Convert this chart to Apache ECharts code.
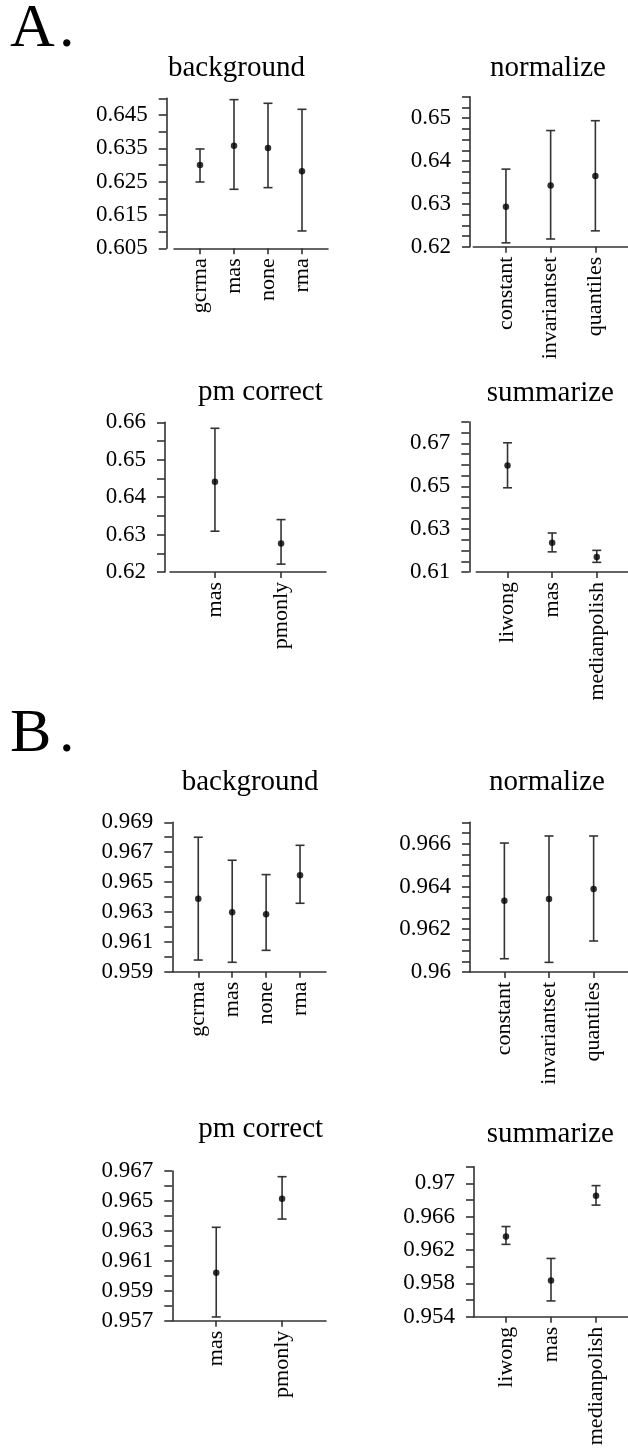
<!DOCTYPE html>
<html>
 <head>
  <meta charset="utf-8" />
  <title>error bars</title>
  <script type="text/javascript" src="https://cdn.jsdelivr.net/npm/echarts@6/dist/echarts.min.js"></script>
  <style type="text/css">
html, body {
	margin: 0;
	background: #fff;
}

#main {
	width: 628px;
	height: 1456px;
}
</style>
 </head>
 <body>
  <div id="main"></div>

<script type="text/javascript">
// ---- A. ----
var aBgCats = ['gcrma', 'mas', 'none', 'rma'];
var aBgMean = [0.6300, 0.6358, 0.6351, 0.6281];
var aBgLow = [0.6249, 0.6227, 0.6232, 0.6102];
var aBgHigh = [0.6348, 0.6496, 0.6485, 0.6467];
var aBgLabels = [0.605, 0.615, 0.625, 0.635, 0.645];

var aNormCats = ['constant', 'invariantset', 'quantiles'];
var aNormMean = [0.6293, 0.6343, 0.6365];
var aNormLow = [0.6209, 0.6218, 0.6237];
var aNormHigh = [0.6381, 0.6471, 0.6494];
var aNormLabels = [0.62, 0.63, 0.64, 0.65];

var aPmCats = ['mas', 'pmonly'];
var aPmMean = [0.6441, 0.6276];
var aPmLow = [0.6309, 0.6221];
var aPmHigh = [0.6584, 0.6340];
var aPmLabels = [0.62, 0.63, 0.64, 0.65, 0.66];

var aSumCats = ['liwong', 'mas', 'medianpolish'];
var aSumMean = [0.6597, 0.6236, 0.6170];
var aSumLow = [0.6493, 0.6194, 0.6145];
var aSumHigh = [0.6703, 0.6282, 0.6201];
var aSumLabels = [0.61, 0.63, 0.65, 0.67];

// ---- B. ----
var bBgCats = ['gcrma', 'mas', 'none', 'rma'];
var bBgMean = [0.96389, 0.96298, 0.96284, 0.96546];
var bBgLow = [0.95978, 0.95963, 0.96043, 0.96358];
var bBgHigh = [0.96800, 0.96646, 0.96550, 0.96746];
var bBgLabels = [0.959, 0.961, 0.963, 0.965, 0.967, 0.969];

var bNormCats = ['constant', 'invariantset', 'quantiles'];
var bNormMean = [0.96333, 0.96341, 0.96388];
var bNormLow = [0.96062, 0.96045, 0.96145];
var bNormHigh = [0.96603, 0.96636, 0.96636];
var bNormLabels = [0.96, 0.962, 0.964, 0.966];

var bPmCats = ['mas', 'pmonly'];
var bPmMean = [0.96021, 0.96515];
var bPmLow = [0.95725, 0.96379];
var bPmHigh = [0.96324, 0.96662];
var bPmLabels = [0.957, 0.959, 0.961, 0.963, 0.965, 0.967];

var bSumCats = ['liwong', 'mas', 'medianpolish'];
var bSumMean = [0.96361, 0.95834, 0.96852];
var bSumLow = [0.96268, 0.95589, 0.96739];
var bSumHigh = [0.96482, 0.96099, 0.96973];
var bSumLabels = [0.954, 0.958, 0.962, 0.966, 0.97];

var FONT = '"Liberation Serif", "DejaVu Serif", serif';
var INK = '#333';

// panel layout (pixels) + axis ranges
var panels = [
    {title: 'background', tx: 168, ty: 77, cats: aBgCats, mean: aBgMean, low: aBgLow, high: aBgHigh, labels: aBgLabels,
        min: 0.605, max: 0.650, step: 0.005, left: 174, top: 98.3, width: 154, height: 150, offset: 7.3, pad: 0.765},
    {title: 'normalize', tx: 490, ty: 77, cats: aNormCats, mean: aNormMean, low: aNormLow, high: aNormHigh, labels: aNormLabels,
        min: 0.62, max: 0.655, step: 0.0025, left: 473.3, top: 96.7, width: 154.7, height: 150, offset: 3.3, pad: 0.73},
    {title: 'pm correct', tx: 198, ty: 401.7, cats: aPmCats, mean: aPmMean, low: aPmLow, high: aPmHigh, labels: aPmLabels,
        min: 0.62, max: 0.66, step: 0.005, left: 170, top: 422.3, width: 156, height: 149.7, offset: 5, pad: 0.68},
    {title: 'summarize', tx: 486.7, ty: 402.3, cats: aSumCats, mean: aSumMean, low: aSumLow, high: aSumHigh, labels: aSumLabels,
        min: 0.61, max: 0.68, step: 0.005, left: 476.3, top: 422, width: 151.7, height: 150, offset: 7, pad: 0.70},
    {title: 'background', tx: 181.7, ty: 791.7, cats: bBgCats, mean: bBgMean, low: bBgLow, high: bBgHigh, labels: bBgLabels,
        min: 0.959, max: 0.969, step: 0.001, left: 172.3, top: 822.3, width: 153.7, height: 149.4, offset: 0, pad: 0.765},
    {title: 'normalize', tx: 489, ty: 791.7, cats: bNormCats, mean: bNormMean, low: bNormLow, high: bNormHigh, labels: bNormLabels,
        min: 0.96, max: 0.967, step: 0.0005, left: 470, top: 822.3, width: 158, height: 149.7, offset: 0, pad: 0.77},
    {title: 'pm correct', tx: 198.3, ty: 1138.3, cats: bPmCats, mean: bPmMean, low: bPmLow, high: bPmHigh, labels: bPmLabels,
        min: 0.957, max: 0.967, step: 0.001, left: 172.3, top: 1171, width: 153.7, height: 149.7, offset: 0, pad: 0.667},
    {title: 'summarize', tx: 486.7, ty: 1143.3, cats: bSumCats, mean: bSumMean, low: bSumLow, high: bSumHigh, labels: bSumLabels,
        min: 0.954, max: 0.972, step: 0.002, left: 474, top: 1166.7, width: 154, height: 150, offset: 0, pad: 0.71}
];

function tickValues(min, max, step) {
    var out = [];
    var n = Math.round((max - min) / step);
    for (var i = 0; i <= n; i++) {
        out.push(+(min + i * step).toFixed(6));
    }
    return out;
}

function renderBar(params, api) {
    var x = api.value(0);
    var lo = api.coord([x, api.value(1)]);
    var hi = api.coord([x, api.value(2)]);
    var cap = 4.5;
    var st = {stroke: INK, lineWidth: 1.6};
    return {
        type: 'group',
        children: [
            {type: 'line', shape: {x1: hi[0], y1: hi[1], x2: lo[0], y2: lo[1]}, style: st},
            {type: 'line', shape: {x1: hi[0] - cap, y1: hi[1], x2: hi[0] + cap, y2: hi[1]}, style: st},
            {type: 'line', shape: {x1: lo[0] - cap, y1: lo[1], x2: lo[0] + cap, y2: lo[1]}, style: st}
        ]
    };
}

var grids = [], xAxes = [], yAxes = [], series = [], texts = [];

panels.forEach(function (p, k) {
    var idx = p.cats.map(function (c, i) { return i; });
    grids.push({left: p.left, top: p.top, width: p.width, height: p.height, containLabel: false});
    xAxes.push({
        type: 'value',
        gridIndex: k,
        min: -p.pad,
        max: p.cats.length - 1 + p.pad,
        splitLine: {show: false},
        axisLine: {show: true, onZero: false, lineStyle: {color: INK, width: 1.6}},
        axisTick: {show: true, length: 6, customValues: idx, lineStyle: {color: INK, width: 1.6}},
        axisLabel: {
            show: true,
            customValues: idx,
            rotate: 90,
            margin: 10,
            color: '#000',
            fontFamily: FONT,
            fontSize: 22,
            formatter: (function (cats) {
                return function (v) { return cats[Math.round(v)] || ''; };
            })(p.cats)
        }
    });
    yAxes.push({
        type: 'value',
        gridIndex: k,
        min: p.min,
        max: p.max,
        offset: p.offset,
        splitLine: {show: false},
        axisLine: {show: true, onZero: false, lineStyle: {color: INK, width: 1.6}},
        axisTick: {show: true, length: 8, customValues: tickValues(p.min, p.max, p.step), lineStyle: {color: INK, width: 1.6}},
        axisLabel: {
            show: true,
            customValues: p.labels,
            margin: 19,
            color: '#000',
            fontFamily: FONT,
            fontSize: 23,
            formatter: function (v) { return String(+v.toFixed(4)); }
        }
    });
    series.push({
        type: 'custom',
        xAxisIndex: k,
        yAxisIndex: k,
        renderItem: renderBar,
        encode: {x: 0, y: [1, 2]},
        silent: true,
        data: idx.map(function (i) { return [i, p.low[i], p.high[i]]; })
    });
    series.push({
        type: 'scatter',
        xAxisIndex: k,
        yAxisIndex: k,
        symbol: 'circle',
        symbolSize: 6.5,
        itemStyle: {color: '#000'},
        silent: true,
        data: idx.map(function (i) { return [i, p.mean[i]]; })
    });
    texts.push({
        type: 'text',
        x: p.tx,
        y: p.ty - 9,
        style: {text: p.title, fill: '#000', font: '29px ' + FONT, verticalAlign: 'middle', align: 'left'}
    });
});

// section letters
[['A', 48.3], ['B', 754]].forEach(function (s) {
    texts.push({type: 'text', x: 10, y: s[1] - 19, style: {text: s[0], fill: '#000', font: '62px ' + FONT, verticalAlign: 'middle', align: 'left'}});
    texts.push({type: 'text', x: 59, y: s[1] - 19, style: {text: '.', fill: '#000', font: '62px ' + FONT, verticalAlign: 'middle', align: 'left'}});
});

var chart = echarts.init(document.getElementById('main'), null, {renderer: 'canvas'});
chart.setOption({
    animation: false,
    backgroundColor: '#fff',
    grid: grids,
    xAxis: xAxes,
    yAxis: yAxes,
    series: series,
    graphic: texts
});
</script>
 </body>
</html>
